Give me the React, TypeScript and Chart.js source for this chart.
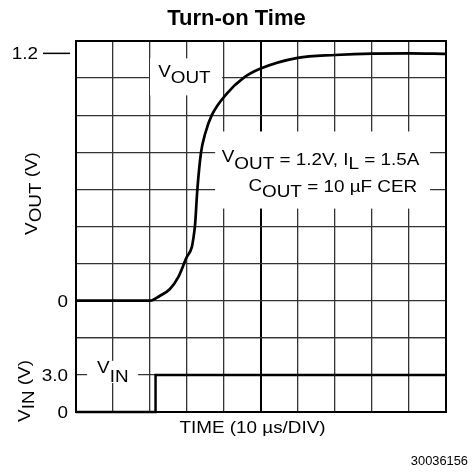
import React, { useEffect, useRef } from "react";
import { Chart, registerables } from "chart.js";

Chart.register(...registerables);

// ---------- data (time in divisions of 10 µs) ----------
const TIME_DIV = [0, 1, 2, 2.27, 2.54, 2.76, 2.99, 3.13, 3.17, 3.22, 3.26, 3.28, 3.38, 3.49, 3.67, 4.07, 4.52, 4.99, 5.99, 7, 8, 9, 10];
const VOUT_V = [0, 0, 0, 0.024, 0.057, 0.113, 0.21, 0.26, 0.3, 0.373, 0.486, 0.54, 0.72, 0.81, 0.9, 1.004, 1.08, 1.126, 1.178, 1.192, 1.199, 1.2, 1.198];
const VIN_TIME_DIV = [0, 2.15, 2.15, 10];
const VIN_V = [0, 0, 3, 3];

const VOUT_TICKS = [0, 1.2];
const VOUT_TICK_LABELS = ["0", "1.2"];
const VIN_TICKS = [0, 3];
const VIN_TICK_LABELS = ["0", "3.0"];

const VOUT_PER_DIV = 0.18; // volts per grid row on the VOUT trace
const VOUT_ROWS = 8;
const VIN_PER_DIV = 3; // volts per grid row on the VIN trace
const VIN_ROWS = 2;

const TITLE = "Turn-on Time";
const X_TITLE = "TIME (10 µs/DIV)";
const FOOTNOTE = "30036156";

const FONT = '"Liberation Sans", Arial, Helvetica, sans-serif';
const SX = 1.18;

type Seg = { t: string; dy?: number };

function drawRich(
  ctx: CanvasRenderingContext2D,
  x: number,
  y: number,
  segs: Seg[],
  size: number,
  align: "left" | "center" | "right",
  sx: number,
  bold = false
) {
  ctx.save();
  ctx.font = `${bold ? "bold " : ""}${size}px ${FONT}`;
  ctx.textBaseline = "alphabetic";
  ctx.textAlign = "left";
  ctx.fillStyle = "#000";
  const widths = segs.map((s) => ctx.measureText(s.t).width * sx);
  const total = widths.reduce((a, b) => a + b, 0);
  let cx = align === "left" ? x : align === "center" ? x - total / 2 : x - total;
  segs.forEach((s, i) => {
    ctx.save();
    ctx.translate(cx, y + (s.dy || 0));
    ctx.scale(sx, 1);
    ctx.fillText(s.t, 0, 0);
    ctx.restore();
    cx += widths[i];
  });
  ctx.restore();
}

const overlay = {
  id: "overlay",
  beforeDatasetsDraw(chart: any) {
    const ctx: CanvasRenderingContext2D = chart.ctx;
    const xs = chart.scales.x;
    const yo = chart.scales.yOut;
    const yi = chart.scales.yIn;
    const px = (v: number) => xs.getPixelForValue(v);
    ctx.save();
    ctx.fillStyle = "#fff";
    const box = (x0: number, x1: number, y0: number, y1: number) =>
      ctx.fillRect(x0, y0, x1 - x0, y1 - y0);
    // VOUT label
    box(px(2.0), px(3.95), yo.getPixelForValue(1.176), yo.getPixelForValue(0.996));
    // condition note
    box(px(3.76), px(9.57), yo.getPixelForValue(0.821), yo.getPixelForValue(0.447));
    // VIN label
    box(px(0.3), px(1.68), yi.getPixelForValue(4.14), yi.getPixelForValue(2.35));
    ctx.restore();

    drawRich(ctx, px(2.22), yo.getPixelForValue(1.069), [
      { t: "V", dy: -3.3 },
      { t: "OUT", dy: 3 },
    ], 16, "left", SX);

    drawRich(ctx, px(3.94), yo.getPixelForValue(0.656), [
      { t: "V", dy: -3.3 },
      { t: "OUT", dy: 3.3 },
      { t: " = 1.2V, I" },
      { t: "L", dy: 3.5 },
      { t: " = 1.5A" },
    ], 16, "left", SX);

    drawRich(ctx, px(4.66), yo.getPixelForValue(0.527), [
      { t: "C", dy: -1 },
      { t: "OUT", dy: 4.5 },
      { t: " = 10 µF CER" },
    ], 16, "left", SX);

    drawRich(ctx, px(0.57), yi.getPixelForValue(2.8), [
      { t: "V", dy: -4.2 },
      { t: "IN", dy: 4.2 },
    ], 16, "left", SX);
  },
  afterDraw(chart: any) {
    const ctx: CanvasRenderingContext2D = chart.ctx;
    const a = chart.chartArea;
    const yo = chart.scales.yOut;
    const yi = chart.scales.yIn;
    // frame
    ctx.save();
    ctx.strokeStyle = "#000";
    ctx.lineWidth = 2;
    ctx.strokeRect(a.left, a.top, a.right - a.left, a.bottom - a.top);
    ctx.restore();

    // title
    drawRich(ctx, (a.left + a.right) / 2 - 24.5, 25, [{ t: TITLE }], 22, "center", 1, true);

    // tick labels
    VOUT_TICKS.forEach((v, i) => {
      const y = yo.getPixelForValue(v) + 5.8;
      const right = v === 0 ? a.left - 8 : a.left - 38;
      drawRich(ctx, right, y, [{ t: VOUT_TICK_LABELS[i] }], 16, "right", SX);
      if (v !== 0) {
        ctx.save();
        ctx.strokeStyle = "#000";
        ctx.lineWidth = 1.5;
        ctx.beginPath();
        ctx.moveTo(a.left - 33, yo.getPixelForValue(v));
        ctx.lineTo(a.left - 6, yo.getPixelForValue(v));
        ctx.stroke();
        ctx.restore();
      }
    });
    VIN_TICKS.forEach((v, i) => {
      const y = yi.getPixelForValue(v) + 5.8;
      drawRich(ctx, a.left - 8, y, [{ t: VIN_TICK_LABELS[i] }], 16, "right", SX);
    });

    // axis titles
    ctx.save();
    ctx.translate(37, (yo.getPixelForValue(0.52)));
    ctx.rotate(-Math.PI / 2);
    drawRich(ctx, 0, 0, [{ t: "V" }, { t: "OUT", dy: 3.5 }, { t: " (V)" }], 16, "center", SX);
    ctx.restore();

    ctx.save();
    ctx.translate(30, yi.getPixelForValue(1.7));
    ctx.rotate(-Math.PI / 2);
    drawRich(ctx, 0, 0, [{ t: "V" }, { t: "IN", dy: 3.5 }, { t: " (V)" }], 16, "center", SX);
    ctx.restore();

    drawRich(ctx, (a.left + a.right) / 2 - 8.5, a.bottom + 20.5, [{ t: X_TITLE }], 16, "center", SX);

    drawRich(ctx, 468, 465, [{ t: FOOTNOTE }], 12, "right", 1.07);
  },
};

export default function App() {
  const ref = useRef<HTMLCanvasElement | null>(null);

  useEffect(() => {
    if (!ref.current) return;
    const gridColor = "#333";
    const chart = new Chart(ref.current, {
      type: "line",
      data: {
        datasets: [
          {
            label: "VOUT",
            data: TIME_DIV.map((t, i) => ({ x: t, y: VOUT_V[i] })),
            yAxisID: "yOut",
            borderColor: "#000",
            borderWidth: 2.7,
            pointRadius: 0,
            cubicInterpolationMode: "monotone",
            clip: false as any,
          },
          {
            label: "VIN",
            data: VIN_TIME_DIV.map((t, i) => ({ x: t, y: VIN_V[i] })),
            yAxisID: "yIn",
            borderColor: "#000",
            borderWidth: 2.5,
            pointRadius: 0,
            tension: 0,
            clip: false as any,
          },
        ],
      },
      options: {
        animation: false,
        responsive: false,
        devicePixelRatio: 1,
        layout: { padding: { left: 76, top: 41, right: 26, bottom: 62 } },
        plugins: {
          legend: { display: false },
          tooltip: { enabled: false },
          title: { display: false },
        },
        scales: {
          x: {
            type: "linear",
            min: 0,
            max: 10,
            ticks: { display: false, stepSize: 1 },
            grid: {
              drawTicks: false,
              color: (c: any) => (c.tick && c.tick.value === 5 ? "#000" : gridColor),
              lineWidth: (c: any) => (c.tick && c.tick.value === 5 ? 2 : 1.3),
            },
            border: { display: false },
            afterFit: (s: any) => {
              s.height = 0;
            },
          },
          yIn: {
            type: "linear",
            position: "left",
            stack: "v",
            stackWeight: VIN_ROWS,
            min: 0,
            max: VIN_ROWS * VIN_PER_DIV,
            ticks: { display: false },
            afterBuildTicks: (s: any) => {
              s.ticks = Array.from({ length: VIN_ROWS + 1 }, (_, i) => ({ value: i * VIN_PER_DIV }));
            },
            grid: { drawTicks: false, color: gridColor, lineWidth: 1.3 },
            border: { display: false },
            afterFit: (s: any) => {
              s.width = 0;
            },
          },
          yOut: {
            type: "linear",
            position: "left",
            stack: "v",
            stackWeight: VOUT_ROWS,
            min: -VOUT_PER_DIV,
            max: (VOUT_ROWS - 1) * VOUT_PER_DIV,
            ticks: { display: false },
            afterBuildTicks: (s: any) => {
              s.ticks = Array.from({ length: VOUT_ROWS + 1 }, (_, i) => ({ value: (i - 1) * VOUT_PER_DIV }));
            },
            grid: { drawTicks: false, color: gridColor, lineWidth: 1.3 },
            border: { display: false },
            afterFit: (s: any) => {
              s.width = 0;
            },
          },
        },
      } as any,
      plugins: [overlay],
    });
    return () => chart.destroy();
  }, []);

  return (
    <div style={{ position: "fixed", left: 0, top: 0, width: 472, height: 474, background: "#fff" }}>
      <canvas ref={ref} width={472} height={474} style={{ display: "block" }} />
    </div>
  );
}
